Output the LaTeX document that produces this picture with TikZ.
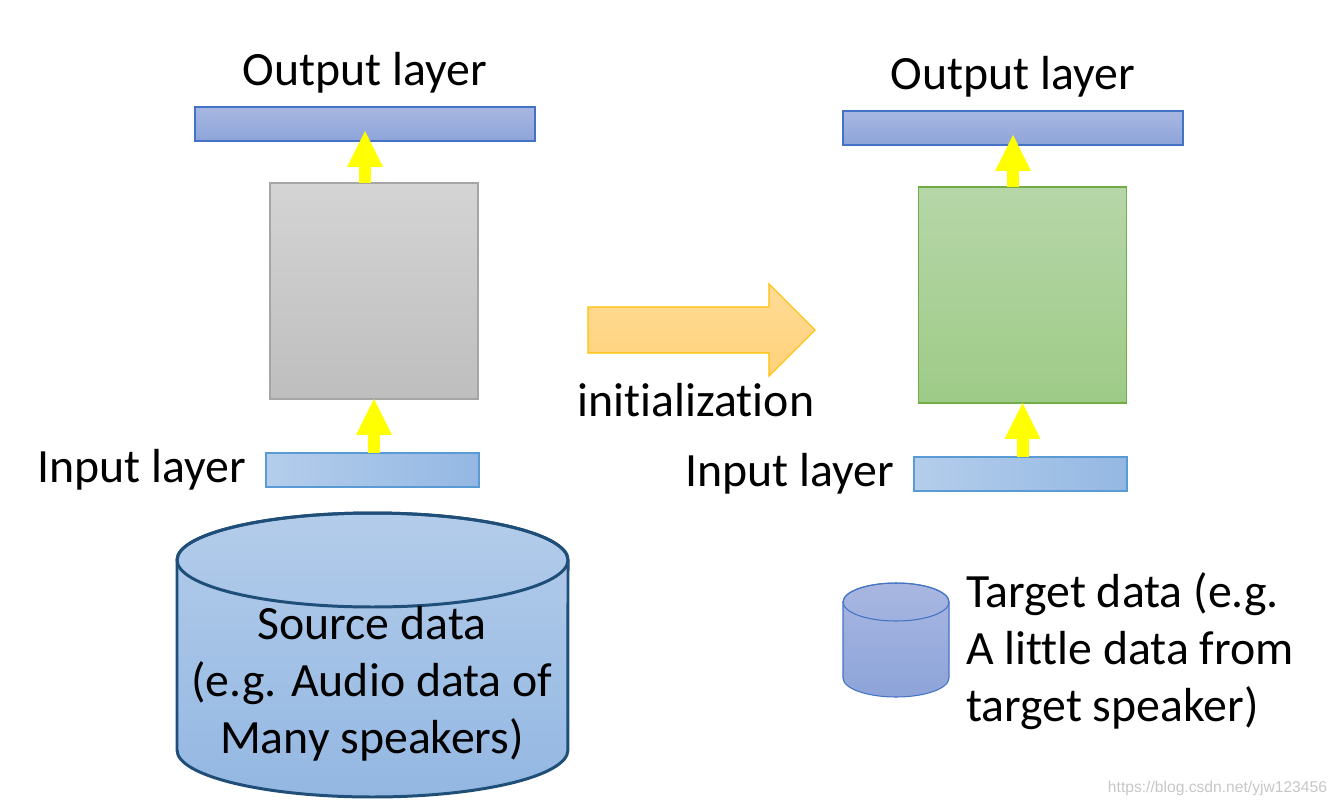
\documentclass[tikz,border=0pt]{standalone}
\usepackage{fontspec}
\setmainfont{Carlito}[Ligatures=NoCommon]
\newfontfamily\markfont{Liberation Sans}
\usetikzlibrary{positioning, arrows.meta}
\definecolor{outtop}{HTML}{A8B7E1}
\definecolor{outbot}{HTML}{8DA4D9}
\definecolor{outedge}{HTML}{4472C4}
\definecolor{inleft}{HTML}{B4CDEB}
\definecolor{inright}{HTML}{94B8E3}
\definecolor{inedge}{HTML}{5B9BD5}
\definecolor{graytop}{HTML}{D4D4D4}
\definecolor{graybot}{HTML}{BEBEBE}
\definecolor{grayedge}{HTML}{A5A5A5}
\definecolor{greentop}{HTML}{B6D6A8}
\definecolor{greenbot}{HTML}{9ECB87}
\definecolor{greenedge}{HTML}{70AD47}
\definecolor{inittop}{HTML}{FFDB96}
\definecolor{initbot}{HTML}{FFD27A}
\definecolor{initedge}{HTML}{FFC000}
\definecolor{srctop}{HTML}{B3CCEA}
\definecolor{srcbot}{HTML}{93B7E2}
\definecolor{srcedge}{HTML}{1F4E79}
\definecolor{upyellow}{HTML}{FFFF00}

\begin{document}
\begin{tikzpicture}[x=0.02cm, y=-0.02cm,
    every node/.style={inner sep=0pt, outer sep=0pt},
    txt/.style={font=\fontsize{27.2}{32.4}\selectfont},
    outbar/.style={draw=outedge, line width=0.75pt, top color=outtop, bottom color=outbot, minimum width=6.8cm, minimum height=0.68cm},
    inbar/.style={draw=inedge, line width=0.75pt, left color=inleft, right color=inright, minimum width=4.26cm, minimum height=0.68cm},
    hidbox/.style={line width=0.75pt, minimum width=4.16cm, minimum height=4.32cm},
    uparrow/.style={draw=upyellow, line width=0.24cm, -{Triangle[length=0.72cm, width=0.72cm, line width=0pt]}},
    initarrow/.style={draw=initedge, line width=0.6pt, top color=inittop, bottom color=initbot},
    cylbody/.style={top color=#1top, bottom color=#1bot}]
    \fill[white] (0,0) rectangle (1337,804);
    \useasboundingbox (0,0) rectangle (1337,804);

    % 左のネットワーク
    \node[outbar] (outL) at (365,124) {};
    \node[hidbox, draw=grayedge, top color=graytop, bottom color=graybot] (boxL) at (374,291) {};
    \node[inbar] (inL) at (372.5,470) {};
    % 右のネットワーク
    \node[outbar] (outR) at (1013,128) {};
    \node[hidbox, draw=greenedge, top color=greentop, bottom color=greenbot] (boxR) at (1022.5,295) {};
    \node[inbar] (inR) at (1020.5,474) {};

    \foreach\S in{L,R}{
        \draw[uparrow] (in\S.north -| box\S) -- (box\S.south);
        \draw[uparrow] (box\S.north -| out\S) -- ([yshift=0.2cm]out\S.south);
        \node[txt, above=0.28cm of out\S] (outtxt\S) {Output layer};
        \node[txt, left=0.4cm of in\S] (intxt\S) {Input layer};
    }

    % initialization の矢印
    \draw[initarrow] (588,307) -- (769,307) -- (769,284) -- (815,330) -- (769,376) -- (769,353) -- (588,353) -- cycle;
    \node[txt, anchor=base] (inittxt) at (696,416) {initialization};

    % Source data の円柱
    \draw[cylbody=src, draw=srcedge, line width=1.7pt] (177,560) -- (177,750)
        arc[start angle=180, end angle=360, x radius=3.91cm, y radius=0.94cm] -- (568,560)
        arc[start angle=0, end angle=180, x radius=3.91cm, y radius=0.94cm] -- cycle;
    \draw[srcedge, line width=1.7pt] (372.5,560) ellipse[x radius=3.91cm, y radius=0.94cm];
    \node[txt, align=center] (srctxt) at (372,684) {Source data\\(e.g. Audio data of\\Many speakers)};

    % Target data の円柱
    \draw[cylbody=out, draw=outedge, line width=0.6pt] (843,602) -- (843,678)
        arc[start angle=180, end angle=360, x radius=1.06cm, y radius=0.38cm] -- (949,602)
        arc[start angle=0, end angle=180, x radius=1.06cm, y radius=0.38cm] -- cycle;
    \draw[outedge, line width=0.6pt] (896,602) ellipse[x radius=1.06cm, y radius=0.38cm];
    \node[txt, align=left, anchor=west] (tgttxt) at (966,651) {Target data (e.g.\\A little data from\\target speaker)};

    \node[font=\markfont\fontsize{8.9}{10}\selectfont, text=black!22, anchor=base east] (mark) at (1327,792) {https://blog.csdn.net/yjw123456};
\end{tikzpicture}
\end{document}
